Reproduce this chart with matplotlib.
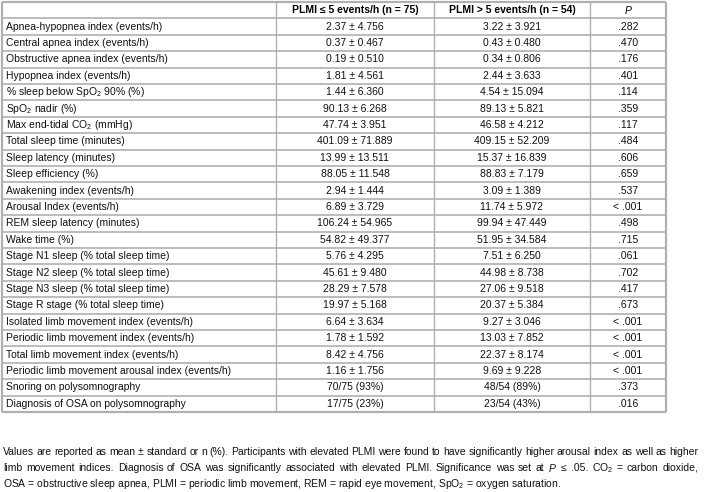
import matplotlib
matplotlib.use("Agg")
import matplotlib.pyplot as plt

plt.rcParams['font.family'] = ['Liberation Sans', 'DejaVu Sans']
plt.rcParams['mathtext.fontset'] = 'custom'
plt.rcParams['mathtext.rm'] = 'Liberation Sans'
plt.rcParams['mathtext.it'] = 'Liberation Sans:italic'
plt.rcParams['mathtext.bf'] = 'Liberation Sans:bold'

# ---------------- data ----------------
headers = ["", "PLMI ≤ 5 events/h (n = 75)", "PLMI > 5 events/h (n = 54)", "$\\mathbf{\\it{P}}$"]

row_labels = [
    "Apnea-hypopnea index (events/h)",
    "Central apnea index (events/h)",
    "Obstructive apnea index (events/h)",
    "Hypopnea index (events/h)",
    "% sleep below SpO$_2$ 90% (%)",
    "SpO$_2$ nadir (%)",
    "Max end-tidal CO$_2$ (mmHg)",
    "Total sleep time (minutes)",
    "Sleep latency (minutes)",
    "Sleep efficiency (%)",
    "Awakening index (events/h)",
    "Arousal Index (events/h)",
    "REM sleep latency (minutes)",
    "Wake time (%)",
    "Stage N1 sleep (% total sleep time)",
    "Stage N2 sleep (% total sleep time)",
    "Stage N3 sleep (% total sleep time)",
    "Stage R stage (% total sleep time)",
    "Isolated limb movement index (events/h)",
    "Periodic limb movement index (events/h)",
    "Total limb movement index (events/h)",
    "Periodic limb movement arousal index (events/h)",
    "Snoring on polysomnography",
    "Diagnosis of OSA on polysomnography",
]

mean_low = [2.37, 0.37, 0.19, 1.81, 1.44, 90.13, 47.74, 401.09, 13.99, 88.05, 2.94, 6.89,
            106.24, 54.82, 5.76, 45.61, 28.29, 19.97, 6.64, 1.78, 8.42, 1.16]
sd_low = [4.756, 0.467, 0.510, 4.561, 6.360, 6.268, 3.951, 71.889, 13.511, 11.548, 1.444, 3.729,
          54.965, 49.377, 4.295, 9.480, 7.578, 5.168, 3.634, 1.592, 4.756, 1.756]
mean_high = [3.22, 0.43, 0.34, 2.44, 4.54, 89.13, 46.58, 409.15, 15.37, 88.83, 3.09, 11.74,
             99.94, 51.95, 7.51, 44.98, 27.06, 20.37, 9.27, 13.03, 22.37, 9.69]
sd_high = [3.921, 0.480, 0.806, 3.633, 15.094, 5.821, 4.212, 52.209, 16.839, 7.179, 1.389, 5.972,
           47.449, 34.584, 6.250, 8.738, 9.518, 5.384, 3.046, 7.852, 8.174, 9.228]

count_low = ["70/75 (93%)", "17/75 (23%)"]
count_high = ["48/54 (89%)", "23/54 (43%)"]

p_values = [".282", ".470", ".176", ".401", ".114", ".359", ".117", ".484", ".606", ".659",
            ".537", "< .001", ".498", ".715", ".061", ".702", ".417", ".673", "< .001",
            "< .001", "< .001", "< .001", ".373", ".016"]

footnote_lines = [
    "Values are reported as mean ± standard or n (%). Participants with elevated PLMI were found to have significantly higher arousal index as well as higher",
    "limb movement indices. Diagnosis of OSA was significantly associated with elevated PLMI. Significance was set at $P$ ≤ .05. CO$_2$ = carbon dioxide,",
    "OSA = obstructive sleep apnea, PLMI = periodic limb movement, REM = rapid eye movement, SpO$_2$ = oxygen saturation.",
]

# ---------------- layout ----------------
W, H = 707, 492
fig = plt.figure(figsize=(W / 100, H / 100), dpi=100)
ax = fig.add_axes([0, 0, 1, 1])
ax.set_xlim(0, W)
ax.set_ylim(H, 0)
ax.axis('off')

col_x = [2, 276, 434, 590, 666]
top = 2
row_h = 16.4
n_rows = len(row_labels) + 1
bottom = top + n_rows * row_h
fs = 7.5
line_col = '#b0b0b0'

# horizontal lines
for i in range(n_rows + 1):
    y = top + i * row_h
    lw = 1.6 if i in (0, n_rows) else 1.2
    ax.plot([col_x[0], col_x[-1]], [y, y], color=line_col, lw=lw, solid_capstyle='butt')
# vertical lines
for j, x in enumerate(col_x):
    lw = 1.6 if j in (0, len(col_x) - 1) else 1.0
    ax.plot([x, x], [top, bottom], color=line_col, lw=lw, solid_capstyle='butt')

centers = [(col_x[k] + col_x[k + 1]) / 2 for k in range(len(col_x) - 1)]

# header
yc = top + 0.5 * row_h
for k in range(1, 4):
    ax.text(centers[k], yc, headers[k], ha='center', va='center', fontsize=fs,
            fontweight='bold', color='black')

col1 = [f"{m:.2f} ± {s:.3f}" for m, s in zip(mean_low, sd_low)] + count_low
col2 = [f"{m:.2f} ± {s:.3f}" for m, s in zip(mean_high, sd_high)] + count_high

for i, lab in enumerate(row_labels):
    yc = top + (i + 1.5) * row_h
    ax.text(col_x[0] + 4, yc, lab, ha='left', va='center', fontsize=fs, color='#111111')
    ax.text(centers[1], yc, col1[i], ha='center', va='center', fontsize=fs, color='#111111')
    ax.text(centers[2], yc, col2[i], ha='center', va='center', fontsize=fs, color='#111111')
    ax.text(centers[3], yc, p_values[i], ha='center', va='center', fontsize=fs, color='#111111')

# footnote (justified)
fig.canvas.draw()
renderer = fig.canvas.get_renderer()
x0, x1 = 3, 698
foot_y = [452, 468, 484]


def px_width(t):
    bb = t.get_window_extent(renderer=renderer)
    return bb.width


for li, line in enumerate(footnote_lines):
    y = foot_y[li]
    if li == len(footnote_lines) - 1:
        ax.text(x0, y, line, ha='left', va='center', fontsize=fs, color='#111111')
        continue
    words = line.split(' ')
    texts = [ax.text(0, y, w, ha='left', va='center', fontsize=fs, color='#111111') for w in words]
    widths = [px_width(t) for t in texts]
    gap = (x1 - x0 - sum(widths)) / (len(words) - 1)
    x = x0
    for t, w in zip(texts, widths):
        t.set_x(x)
        x += w + gap

fig.savefig("out.png", dpi=100)
